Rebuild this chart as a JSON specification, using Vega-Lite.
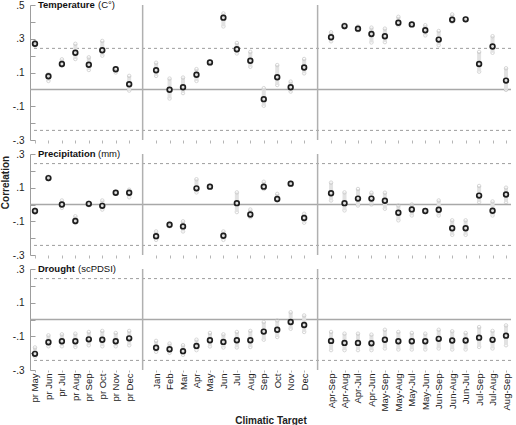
{
  "$schema": "https://vega.github.io/schema/vega-lite/v6.json",
  "padding": {"top": 0, "left": 0, "right": 2, "bottom": 0},
  "spacing": 4,
  "config": {
    "view": {"stroke": null},
    "font": "Liberation Sans",
    "axis": {"grid": false, "labelOverlap": false, "labelFont": "Liberation Sans", "titleFont": "Liberation Sans"}
  },
  "datasets": {
    "levels": [
      {"kind": "zero", "level": 0},
      {"kind": "limit", "level": 0.243},
      {"kind": "limit", "level": -0.243}
    ],
    "breaks": [{"target": "gap-a"}, {"target": "gap-b"}],
    "labels": [
      {"panel": "Temperature", "target": "pr May", "level": 0.5, "name": "Temperature", "unit": "(C°)"},
      {"panel": "Precipitation", "target": "pr May", "level": 0.3, "name": "Precipitation", "unit": "(mm)"},
      {"panel": "Drought", "target": "pr May", "level": 0.3, "name": "Drought", "unit": "(scPDSI)"}
    ],
    "corr": [
      {"panel": "Temperature", "target": "pr May", "r": 0.27, "lo": 0.26, "hi": 0.28},
      {"panel": "Temperature", "target": "pr Jun", "r": 0.078, "lo": 0.05, "hi": 0.09},
      {"panel": "Temperature", "target": "pr Jul", "r": 0.15, "lo": 0.14, "hi": 0.178},
      {"panel": "Temperature", "target": "pr Aug", "r": 0.217, "lo": 0.18, "hi": 0.27},
      {"panel": "Temperature", "target": "pr Sep", "r": 0.146, "lo": 0.115, "hi": 0.19},
      {"panel": "Temperature", "target": "pr Oct", "r": 0.232, "lo": 0.2, "hi": 0.287},
      {"panel": "Temperature", "target": "pr Nov", "r": 0.119, "lo": 0.1, "hi": 0.125},
      {"panel": "Temperature", "target": "pr Dec", "r": 0.03, "lo": -0.007, "hi": 0.08},
      {"panel": "Temperature", "target": "Jan", "r": 0.113, "lo": 0.08, "hi": 0.158},
      {"panel": "Temperature", "target": "Feb", "r": -0.002, "lo": -0.054, "hi": 0.064},
      {"panel": "Temperature", "target": "Mar", "r": 0.013, "lo": -0.022, "hi": 0.07},
      {"panel": "Temperature", "target": "Apr", "r": 0.087, "lo": 0.05, "hi": 0.12},
      {"panel": "Temperature", "target": "May", "r": 0.16, "lo": 0.15, "hi": 0.165},
      {"panel": "Temperature", "target": "Jun", "r": 0.425, "lo": 0.373, "hi": 0.45},
      {"panel": "Temperature", "target": "Jul", "r": 0.238, "lo": 0.213, "hi": 0.275},
      {"panel": "Temperature", "target": "Aug", "r": 0.17, "lo": 0.134, "hi": 0.222},
      {"panel": "Temperature", "target": "Sep", "r": -0.058, "lo": -0.097, "hi": 0.007},
      {"panel": "Temperature", "target": "Oct", "r": 0.072, "lo": 0.026, "hi": 0.144},
      {"panel": "Temperature", "target": "Nov", "r": 0.013, "lo": -0.013, "hi": 0.046},
      {"panel": "Temperature", "target": "Dec", "r": 0.13, "lo": 0.095, "hi": 0.18},
      {"panel": "Temperature", "target": "Apr-Sep", "r": 0.309, "lo": 0.285, "hi": 0.338},
      {"panel": "Temperature", "target": "Apr-Aug", "r": 0.375, "lo": 0.365, "hi": 0.385},
      {"panel": "Temperature", "target": "Apr-Jul", "r": 0.36, "lo": 0.35, "hi": 0.372},
      {"panel": "Temperature", "target": "Apr-Jun", "r": 0.328, "lo": 0.278, "hi": 0.366},
      {"panel": "Temperature", "target": "May-Sep", "r": 0.315, "lo": 0.28, "hi": 0.36},
      {"panel": "Temperature", "target": "May-Aug", "r": 0.395, "lo": 0.38, "hi": 0.43},
      {"panel": "Temperature", "target": "May-Jul", "r": 0.385, "lo": 0.38, "hi": 0.39},
      {"panel": "Temperature", "target": "May-Jun", "r": 0.35, "lo": 0.32, "hi": 0.38},
      {"panel": "Temperature", "target": "Jun-Sep", "r": 0.295, "lo": 0.262, "hi": 0.346},
      {"panel": "Temperature", "target": "Jun-Aug", "r": 0.413, "lo": 0.4, "hi": 0.444},
      {"panel": "Temperature", "target": "Jun-Jul", "r": 0.415, "lo": 0.41, "hi": 0.42},
      {"panel": "Temperature", "target": "Jul-Sep", "r": 0.15, "lo": 0.105, "hi": 0.222},
      {"panel": "Temperature", "target": "Jul-Aug", "r": 0.254, "lo": 0.217, "hi": 0.315},
      {"panel": "Temperature", "target": "Aug-Sep", "r": 0.052, "lo": -0.003, "hi": 0.125},
      {"panel": "Precipitation", "target": "pr May", "r": -0.039, "lo": -0.05, "hi": -0.03},
      {"panel": "Precipitation", "target": "pr Jun", "r": 0.157, "lo": 0.15, "hi": 0.165},
      {"panel": "Precipitation", "target": "pr Jul", "r": 0.0, "lo": -0.02, "hi": 0.024},
      {"panel": "Precipitation", "target": "pr Aug", "r": -0.098, "lo": -0.11, "hi": -0.07},
      {"panel": "Precipitation", "target": "pr Sep", "r": 0.004, "lo": -0.005, "hi": 0.012},
      {"panel": "Precipitation", "target": "pr Oct", "r": -0.008, "lo": -0.03, "hi": 0.024},
      {"panel": "Precipitation", "target": "pr Nov", "r": 0.07, "lo": 0.065, "hi": 0.075},
      {"panel": "Precipitation", "target": "pr Dec", "r": 0.07, "lo": 0.043, "hi": 0.088},
      {"panel": "Precipitation", "target": "Jan", "r": -0.188, "lo": -0.21, "hi": -0.16},
      {"panel": "Precipitation", "target": "Feb", "r": -0.12, "lo": -0.13, "hi": -0.11},
      {"panel": "Precipitation", "target": "Mar", "r": -0.13, "lo": -0.16, "hi": -0.1},
      {"panel": "Precipitation", "target": "Apr", "r": 0.096, "lo": 0.072, "hi": 0.15},
      {"panel": "Precipitation", "target": "May", "r": 0.106, "lo": 0.1, "hi": 0.112},
      {"panel": "Precipitation", "target": "Jun", "r": -0.186, "lo": -0.21, "hi": -0.16},
      {"panel": "Precipitation", "target": "Jul", "r": 0.008, "lo": -0.045, "hi": 0.072},
      {"panel": "Precipitation", "target": "Aug", "r": -0.059, "lo": -0.075, "hi": -0.03},
      {"panel": "Precipitation", "target": "Sep", "r": 0.106, "lo": 0.092, "hi": 0.135},
      {"panel": "Precipitation", "target": "Oct", "r": 0.033, "lo": 0.024, "hi": 0.063},
      {"panel": "Precipitation", "target": "Nov", "r": 0.124, "lo": 0.118, "hi": 0.13},
      {"panel": "Precipitation", "target": "Dec", "r": -0.08, "lo": -0.108, "hi": -0.055},
      {"panel": "Precipitation", "target": "Apr-Sep", "r": 0.067, "lo": 0.024, "hi": 0.13},
      {"panel": "Precipitation", "target": "Apr-Aug", "r": 0.008, "lo": -0.035, "hi": 0.072},
      {"panel": "Precipitation", "target": "Apr-Jul", "r": 0.035, "lo": -0.006, "hi": 0.092},
      {"panel": "Precipitation", "target": "Apr-Jun", "r": 0.035, "lo": 0.0, "hi": 0.07},
      {"panel": "Precipitation", "target": "May-Sep", "r": 0.022, "lo": -0.025, "hi": 0.07},
      {"panel": "Precipitation", "target": "May-Aug", "r": -0.049, "lo": -0.094, "hi": -0.006},
      {"panel": "Precipitation", "target": "May-Jul", "r": -0.029, "lo": -0.065, "hi": 0.0},
      {"panel": "Precipitation", "target": "May-Jun", "r": -0.039, "lo": -0.045, "hi": -0.033},
      {"panel": "Precipitation", "target": "Jun-Sep", "r": -0.031, "lo": -0.065, "hi": 0.024},
      {"panel": "Precipitation", "target": "Jun-Aug", "r": -0.141, "lo": -0.18, "hi": -0.094},
      {"panel": "Precipitation", "target": "Jun-Jul", "r": -0.141, "lo": -0.18, "hi": -0.094},
      {"panel": "Precipitation", "target": "Jul-Sep", "r": 0.053, "lo": 0.014, "hi": 0.11},
      {"panel": "Precipitation", "target": "Jul-Aug", "r": -0.037, "lo": -0.065, "hi": 0.018},
      {"panel": "Precipitation", "target": "Aug-Sep", "r": 0.059, "lo": 0.014, "hi": 0.1},
      {"panel": "Drought", "target": "pr May", "r": -0.204, "lo": -0.22, "hi": -0.166},
      {"panel": "Drought", "target": "pr Jun", "r": -0.135, "lo": -0.159, "hi": -0.094},
      {"panel": "Drought", "target": "pr Jul", "r": -0.129, "lo": -0.159, "hi": -0.088},
      {"panel": "Drought", "target": "pr Aug", "r": -0.129, "lo": -0.163, "hi": -0.084},
      {"panel": "Drought", "target": "pr Sep", "r": -0.118, "lo": -0.153, "hi": -0.074},
      {"panel": "Drought", "target": "pr Oct", "r": -0.12, "lo": -0.159, "hi": -0.068},
      {"panel": "Drought", "target": "pr Nov", "r": -0.129, "lo": -0.159, "hi": -0.08},
      {"panel": "Drought", "target": "pr Dec", "r": -0.112, "lo": -0.153, "hi": -0.068},
      {"panel": "Drought", "target": "Jan", "r": -0.168, "lo": -0.192, "hi": -0.127},
      {"panel": "Drought", "target": "Feb", "r": -0.177, "lo": -0.198, "hi": -0.143},
      {"panel": "Drought", "target": "Mar", "r": -0.188, "lo": -0.21, "hi": -0.153},
      {"panel": "Drought", "target": "Apr", "r": -0.157, "lo": -0.182, "hi": -0.12},
      {"panel": "Drought", "target": "May", "r": -0.123, "lo": -0.16, "hi": -0.08},
      {"panel": "Drought", "target": "Jun", "r": -0.133, "lo": -0.166, "hi": -0.088},
      {"panel": "Drought", "target": "Jul", "r": -0.123, "lo": -0.166, "hi": -0.074},
      {"panel": "Drought", "target": "Aug", "r": -0.123, "lo": -0.163, "hi": -0.068},
      {"panel": "Drought", "target": "Sep", "r": -0.072, "lo": -0.12, "hi": -0.015},
      {"panel": "Drought", "target": "Oct", "r": -0.061, "lo": -0.104, "hi": -0.006},
      {"panel": "Drought", "target": "Nov", "r": -0.015, "lo": -0.055, "hi": 0.043},
      {"panel": "Drought", "target": "Dec", "r": -0.033, "lo": -0.074, "hi": 0.024},
      {"panel": "Drought", "target": "Apr-Sep", "r": -0.127, "lo": -0.182, "hi": -0.074},
      {"panel": "Drought", "target": "Apr-Aug", "r": -0.139, "lo": -0.182, "hi": -0.084},
      {"panel": "Drought", "target": "Apr-Jul", "r": -0.139, "lo": -0.182, "hi": -0.084},
      {"panel": "Drought", "target": "Apr-Jun", "r": -0.141, "lo": -0.182, "hi": -0.09},
      {"panel": "Drought", "target": "May-Sep", "r": -0.12, "lo": -0.172, "hi": -0.061},
      {"panel": "Drought", "target": "May-Aug", "r": -0.129, "lo": -0.178, "hi": -0.074},
      {"panel": "Drought", "target": "May-Jul", "r": -0.129, "lo": -0.178, "hi": -0.08},
      {"panel": "Drought", "target": "May-Jun", "r": -0.129, "lo": -0.178, "hi": -0.084},
      {"panel": "Drought", "target": "Jun-Sep", "r": -0.115, "lo": -0.172, "hi": -0.061},
      {"panel": "Drought", "target": "Jun-Aug", "r": -0.125, "lo": -0.178, "hi": -0.07},
      {"panel": "Drought", "target": "Jun-Jul", "r": -0.125, "lo": -0.178, "hi": -0.08},
      {"panel": "Drought", "target": "Jul-Sep", "r": -0.108, "lo": -0.163, "hi": -0.045},
      {"panel": "Drought", "target": "Jul-Aug", "r": -0.121, "lo": -0.172, "hi": -0.068},
      {"panel": "Drought", "target": "Aug-Sep", "r": -0.096, "lo": -0.153, "hi": -0.035}
    ]
  },
  "vconcat": [
    {
      "width": 481,
      "height": 135,
      "layer": [
        {
          "data": {"name": "corr"},
          "transform": [{"filter": "datum.panel == 'Temperature'"}],
          "mark": {"type": "point", "shape": "circle", "filled": false, "color": "#c6c6c6", "size": 12, "strokeWidth": 1},
          "encoding": {
            "x": {"field": "target", "type": "nominal", "scale": {"type": "point", "padding": 0.37, "domain": ["pr May","pr Jun","pr Jul","pr Aug","pr Sep","pr Oct","pr Nov","pr Dec","gap-a","Jan","Feb","Mar","Apr","May","Jun","Jul","Aug","Sep","Oct","Nov","Dec","gap-b","Apr-Sep","Apr-Aug","Apr-Jul","Apr-Jun","May-Sep","May-Aug","May-Jul","May-Jun","Jun-Sep","Jun-Aug","Jun-Jul","Jul-Sep","Jul-Aug","Aug-Sep"]},
              "axis": {"values": ["pr May","pr Jun","pr Jul","pr Aug","pr Sep","pr Oct","pr Nov","pr Dec","Jan","Feb","Mar","Apr","May","Jun","Jul","Aug","Sep","Oct","Nov","Dec","Apr-Sep","Apr-Aug","Apr-Jul","Apr-Jun","May-Sep","May-Aug","May-Jul","May-Jun","Jun-Sep","Jun-Aug","Jun-Jul","Jul-Sep","Jul-Aug","Aug-Sep"], "labels": false, "domain": false, "tickSize": 3, "tickColor": "#b5b5b5", "title": null}},
            "y": {"field": "lo", "type": "quantitative", "scale": {"domain": [-0.3, 0.5], "nice": false, "zero": false},
              "axis": {"values": [-0.3, -0.2, -0.1, 0, 0.1, 0.2, 0.3, 0.4, 0.5], "tickCount": 20, "labelExpr": "(datum.value < 0 ? '-' : '') + '.' + abs(round(datum.value * 10))", "labelOpacity": {"condition": {"test": "abs(round(datum.value * 10)) % 2 == 1", "value": 1}, "value": 0}, "tickSize": -5, "labelPadding": 11, "labelFlush": false, "labelOverlap": false, "labelSeparation": 0, "domainColor": "#9d9d9d", "tickColor": "#9d9d9d", "labelColor": "#222", "labelFontSize": 10, "title": null}}
          }
        },
        {
          "data": {"name": "levels"},
          "transform": [{"filter": "datum.kind == 'limit'"}],
          "mark": {"type": "rule", "color": "#9d9d9d", "strokeDash": [3, 3], "strokeWidth": 1},
          "encoding": {"y": {"field": "level", "type": "quantitative"}}
        },
        {
          "data": {"name": "levels"},
          "transform": [{"filter": "datum.kind == 'zero'"}],
          "mark": {"type": "rule", "color": "#a8a8a8", "strokeWidth": 1.5},
          "encoding": {"y": {"field": "level", "type": "quantitative"}}
        },
        {
          "data": {"name": "breaks"},
          "mark": {"type": "rule", "color": "#b0b0b0", "strokeWidth": 1.5},
          "encoding": {"x": {"field": "target", "type": "nominal"}}
        },
        {
          "data": {"name": "corr"},
          "transform": [{"filter": "datum.panel == 'Temperature'"}],
          "mark": {"type": "rule", "color": "#e2e2e2", "strokeWidth": 4},
          "encoding": {"x": {"field": "target", "type": "nominal"}, "y": {"field": "lo", "type": "quantitative"}, "y2": {"field": "hi"}}
        },
        {
          "data": {"name": "corr"},
          "transform": [{"filter": "datum.panel == 'Temperature'"}],
          "mark": {"type": "point", "shape": "circle", "filled": false, "color": "#c6c6c6", "size": 12, "strokeWidth": 1},
          "encoding": {"x": {"field": "target", "type": "nominal"}, "y": {"field": "hi", "type": "quantitative"}}
        },
        {
          "data": {"name": "corr"},
          "transform": [{"filter": "datum.panel == 'Temperature'"}],
          "mark": {"type": "point", "shape": "circle", "filled": false, "color": "#1e1e1e", "size": 22, "strokeWidth": 1.7, "opacity": 1},
          "encoding": {"x": {"field": "target", "type": "nominal"}, "y": {"field": "r", "type": "quantitative"}}
        },
        {
          "data": {"name": "labels"},
          "transform": [{"filter": "datum.panel == 'Temperature'"}],
          "mark": {"type": "text", "align": "left", "baseline": "middle", "dx": 3, "fontSize": 9.5, "fontWeight": "bold", "color": "#111"},
          "encoding": {"x": {"field": "target", "type": "nominal"}, "y": {"field": "level", "type": "quantitative"}, "text": {"field": "name"}}
        },
        {
          "data": {"name": "labels"},
          "transform": [{"filter": "datum.panel == 'Temperature'"}],
          "mark": {"type": "text", "align": "left", "baseline": "middle", "dx": 63, "fontSize": 9.5, "color": "#111"},
          "encoding": {"x": {"field": "target", "type": "nominal"}, "y": {"field": "level", "type": "quantitative"}, "text": {"field": "unit"}}
        }
      ]
    },
    {
      "width": 481,
      "height": 101,
      "layer": [
        {
          "data": {"name": "corr"},
          "transform": [{"filter": "datum.panel == 'Precipitation'"}],
          "mark": {"type": "point", "shape": "circle", "filled": false, "color": "#c6c6c6", "size": 12, "strokeWidth": 1},
          "encoding": {
            "x": {"field": "target", "type": "nominal", "scale": {"type": "point", "padding": 0.37, "domain": ["pr May","pr Jun","pr Jul","pr Aug","pr Sep","pr Oct","pr Nov","pr Dec","gap-a","Jan","Feb","Mar","Apr","May","Jun","Jul","Aug","Sep","Oct","Nov","Dec","gap-b","Apr-Sep","Apr-Aug","Apr-Jul","Apr-Jun","May-Sep","May-Aug","May-Jul","May-Jun","Jun-Sep","Jun-Aug","Jun-Jul","Jul-Sep","Jul-Aug","Aug-Sep"]},
              "axis": {"values": ["pr May","pr Jun","pr Jul","pr Aug","pr Sep","pr Oct","pr Nov","pr Dec","Jan","Feb","Mar","Apr","May","Jun","Jul","Aug","Sep","Oct","Nov","Dec","Apr-Sep","Apr-Aug","Apr-Jul","Apr-Jun","May-Sep","May-Aug","May-Jul","May-Jun","Jun-Sep","Jun-Aug","Jun-Jul","Jul-Sep","Jul-Aug","Aug-Sep"], "labels": false, "domain": false, "tickSize": 3, "tickColor": "#b5b5b5", "title": null}},
            "y": {"field": "lo", "type": "quantitative", "scale": {"domain": [-0.3, 0.3], "nice": false, "zero": false},
              "axis": {"values": [-0.3, -0.2, -0.1, 0, 0.1, 0.2, 0.3], "tickCount": 20, "labelExpr": "(datum.value < 0 ? '-' : '') + '.' + abs(round(datum.value * 10))", "labelOpacity": {"condition": {"test": "abs(round(datum.value * 10)) % 2 == 1", "value": 1}, "value": 0}, "tickSize": -5, "labelPadding": 11, "labelFlush": false, "labelOverlap": false, "labelSeparation": 0, "domainColor": "#9d9d9d", "tickColor": "#9d9d9d", "labelColor": "#222", "labelFontSize": 10,
                "title": "Correlation", "titleFontSize": 10, "titleFontWeight": "bold", "titleColor": "#222", "titlePadding": 2, "titleY": 28}}
          }
        },
        {
          "data": {"name": "levels"},
          "transform": [{"filter": "datum.kind == 'limit'"}],
          "mark": {"type": "rule", "color": "#9d9d9d", "strokeDash": [3, 3], "strokeWidth": 1},
          "encoding": {"y": {"field": "level", "type": "quantitative"}}
        },
        {
          "data": {"name": "levels"},
          "transform": [{"filter": "datum.kind == 'zero'"}],
          "mark": {"type": "rule", "color": "#a8a8a8", "strokeWidth": 1.5},
          "encoding": {"y": {"field": "level", "type": "quantitative"}}
        },
        {
          "data": {"name": "breaks"},
          "mark": {"type": "rule", "color": "#b0b0b0", "strokeWidth": 1.5},
          "encoding": {"x": {"field": "target", "type": "nominal"}}
        },
        {
          "data": {"name": "corr"},
          "transform": [{"filter": "datum.panel == 'Precipitation'"}],
          "mark": {"type": "rule", "color": "#e2e2e2", "strokeWidth": 4},
          "encoding": {"x": {"field": "target", "type": "nominal"}, "y": {"field": "lo", "type": "quantitative"}, "y2": {"field": "hi"}}
        },
        {
          "data": {"name": "corr"},
          "transform": [{"filter": "datum.panel == 'Precipitation'"}],
          "mark": {"type": "point", "shape": "circle", "filled": false, "color": "#c6c6c6", "size": 12, "strokeWidth": 1},
          "encoding": {"x": {"field": "target", "type": "nominal"}, "y": {"field": "hi", "type": "quantitative"}}
        },
        {
          "data": {"name": "corr"},
          "transform": [{"filter": "datum.panel == 'Precipitation'"}],
          "mark": {"type": "point", "shape": "circle", "filled": false, "color": "#1e1e1e", "size": 22, "strokeWidth": 1.7, "opacity": 1},
          "encoding": {"x": {"field": "target", "type": "nominal"}, "y": {"field": "r", "type": "quantitative"}}
        },
        {
          "data": {"name": "labels"},
          "transform": [{"filter": "datum.panel == 'Precipitation'"}],
          "mark": {"type": "text", "align": "left", "baseline": "middle", "dx": 3, "fontSize": 9.5, "fontWeight": "bold", "color": "#111"},
          "encoding": {"x": {"field": "target", "type": "nominal"}, "y": {"field": "level", "type": "quantitative"}, "text": {"field": "name"}}
        },
        {
          "data": {"name": "labels"},
          "transform": [{"filter": "datum.panel == 'Precipitation'"}],
          "mark": {"type": "text", "align": "left", "baseline": "middle", "dx": 63, "fontSize": 9.5, "color": "#111"},
          "encoding": {"x": {"field": "target", "type": "nominal"}, "y": {"field": "level", "type": "quantitative"}, "text": {"field": "unit"}}
        }
      ]
    },
    {
      "width": 481,
      "height": 101,
      "layer": [
        {
          "data": {"name": "corr"},
          "transform": [{"filter": "datum.panel == 'Drought'"}],
          "mark": {"type": "point", "shape": "circle", "filled": false, "color": "#c6c6c6", "size": 12, "strokeWidth": 1},
          "encoding": {
            "x": {"field": "target", "type": "nominal", "scale": {"type": "point", "padding": 0.37, "domain": ["pr May","pr Jun","pr Jul","pr Aug","pr Sep","pr Oct","pr Nov","pr Dec","gap-a","Jan","Feb","Mar","Apr","May","Jun","Jul","Aug","Sep","Oct","Nov","Dec","gap-b","Apr-Sep","Apr-Aug","Apr-Jul","Apr-Jun","May-Sep","May-Aug","May-Jul","May-Jun","Jun-Sep","Jun-Aug","Jun-Jul","Jul-Sep","Jul-Aug","Aug-Sep"]},
              "axis": {"values": ["pr May","pr Jun","pr Jul","pr Aug","pr Sep","pr Oct","pr Nov","pr Dec","Jan","Feb","Mar","Apr","May","Jun","Jul","Aug","Sep","Oct","Nov","Dec","Apr-Sep","Apr-Aug","Apr-Jul","Apr-Jun","May-Sep","May-Aug","May-Jul","May-Jun","Jun-Sep","Jun-Aug","Jun-Jul","Jul-Sep","Jul-Aug","Aug-Sep"], "labelAngle": 270, "labelFontSize": 9.5, "labelColor": "#222", "labelPadding": 1, "labelOverlap": false, "domain": false, "tickSize": 2, "tickColor": "#b5b5b5",
                "title": "Climatic Target", "titleFontSize": 10, "titleFontWeight": "bold", "titleColor": "#222", "titlePadding": 4}},
            "y": {"field": "lo", "type": "quantitative", "scale": {"domain": [-0.3, 0.3], "nice": false, "zero": false},
              "axis": {"values": [-0.3, -0.2, -0.1, 0, 0.1, 0.2, 0.3], "tickCount": 20, "labelExpr": "(datum.value < 0 ? '-' : '') + '.' + abs(round(datum.value * 10))", "labelOpacity": {"condition": {"test": "abs(round(datum.value * 10)) % 2 == 1", "value": 1}, "value": 0}, "tickSize": -5, "labelPadding": 11, "labelFlush": false, "labelOverlap": false, "labelSeparation": 0, "domainColor": "#9d9d9d", "tickColor": "#9d9d9d", "labelColor": "#222", "labelFontSize": 10, "title": null}}
          }
        },
        {
          "data": {"name": "levels"},
          "transform": [{"filter": "datum.kind == 'limit'"}],
          "mark": {"type": "rule", "color": "#9d9d9d", "strokeDash": [3, 3], "strokeWidth": 1},
          "encoding": {"y": {"field": "level", "type": "quantitative"}}
        },
        {
          "data": {"name": "levels"},
          "transform": [{"filter": "datum.kind == 'zero'"}],
          "mark": {"type": "rule", "color": "#a8a8a8", "strokeWidth": 1.5},
          "encoding": {"y": {"field": "level", "type": "quantitative"}}
        },
        {
          "data": {"name": "breaks"},
          "mark": {"type": "rule", "color": "#b0b0b0", "strokeWidth": 1.5},
          "encoding": {"x": {"field": "target", "type": "nominal"}}
        },
        {
          "data": {"name": "corr"},
          "transform": [{"filter": "datum.panel == 'Drought'"}],
          "mark": {"type": "rule", "color": "#e2e2e2", "strokeWidth": 4},
          "encoding": {"x": {"field": "target", "type": "nominal"}, "y": {"field": "lo", "type": "quantitative"}, "y2": {"field": "hi"}}
        },
        {
          "data": {"name": "corr"},
          "transform": [{"filter": "datum.panel == 'Drought'"}],
          "mark": {"type": "point", "shape": "circle", "filled": false, "color": "#c6c6c6", "size": 12, "strokeWidth": 1},
          "encoding": {"x": {"field": "target", "type": "nominal"}, "y": {"field": "hi", "type": "quantitative"}}
        },
        {
          "data": {"name": "corr"},
          "transform": [{"filter": "datum.panel == 'Drought'"}],
          "mark": {"type": "point", "shape": "circle", "filled": false, "color": "#1e1e1e", "size": 22, "strokeWidth": 1.7, "opacity": 1},
          "encoding": {"x": {"field": "target", "type": "nominal"}, "y": {"field": "r", "type": "quantitative"}}
        },
        {
          "data": {"name": "labels"},
          "transform": [{"filter": "datum.panel == 'Drought'"}],
          "mark": {"type": "text", "align": "left", "baseline": "middle", "dx": 3, "fontSize": 9.5, "fontWeight": "bold", "color": "#111"},
          "encoding": {"x": {"field": "target", "type": "nominal"}, "y": {"field": "level", "type": "quantitative"}, "text": {"field": "name"}}
        },
        {
          "data": {"name": "labels"},
          "transform": [{"filter": "datum.panel == 'Drought'"}],
          "mark": {"type": "text", "align": "left", "baseline": "middle", "dx": 43, "fontSize": 9.5, "color": "#111"},
          "encoding": {"x": {"field": "target", "type": "nominal"}, "y": {"field": "level", "type": "quantitative"}, "text": {"field": "unit"}}
        }
      ]
    }
  ]
}
